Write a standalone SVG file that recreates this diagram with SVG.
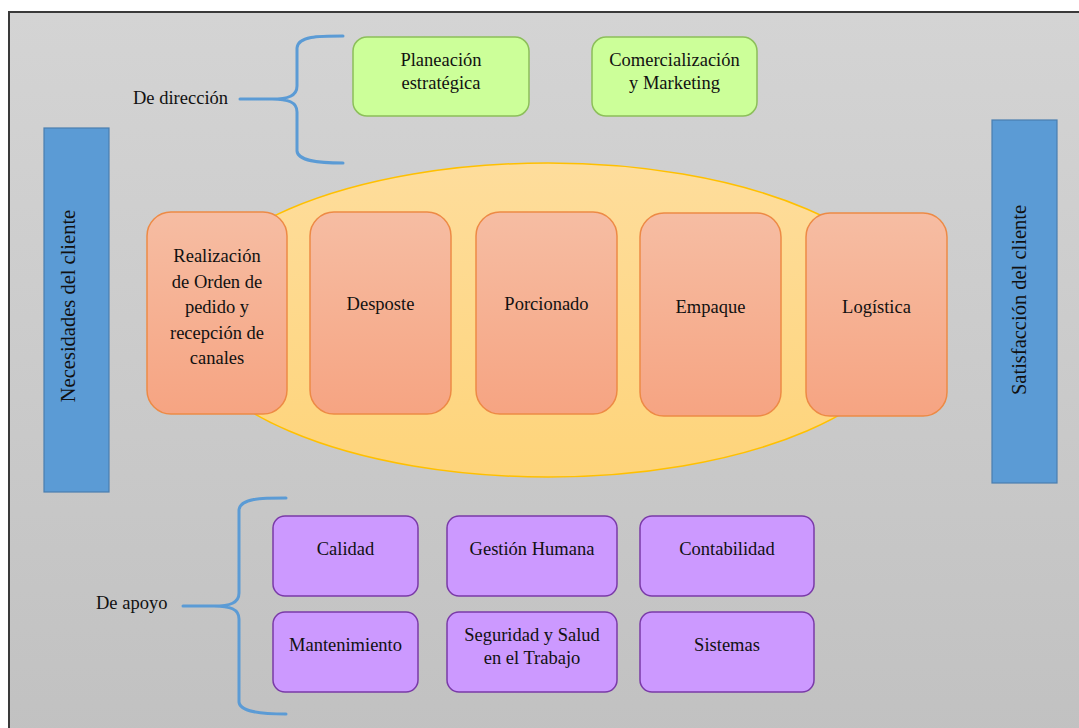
<svg xmlns="http://www.w3.org/2000/svg" width="1079" height="728" viewBox="0 0 1079 728">
  <defs>
    <linearGradient id="bgGrad" x1="0" y1="0" x2="0" y2="1">
      <stop offset="0" stop-color="#d4d4d4"/>
      <stop offset="1" stop-color="#c1c1c1"/>
    </linearGradient>
    <linearGradient id="ovalGrad" x1="0" y1="0" x2="0" y2="1">
      <stop offset="0" stop-color="#fedd9c"/>
      <stop offset="1" stop-color="#fed47a"/>
    </linearGradient>
    <linearGradient id="coreGrad" x1="0" y1="0" x2="0" y2="1">
      <stop offset="0" stop-color="#f6bda3"/>
      <stop offset="1" stop-color="#f6a482"/>
    </linearGradient>
    <style>
      .txt { font-family: "Liberation Serif", "Times New Roman", serif; font-size: 18.5px; fill: #111; text-anchor: middle; }
      .lbl { font-family: "Liberation Serif", "Times New Roman", serif; font-size: 18.5px; fill: #111; }
      .vtxt { font-family: "Liberation Serif", "Times New Roman", serif; font-size: 20.5px; fill: #111; text-anchor: middle; }
      .green { fill: #ccff99; stroke: #8cbf5a; stroke-width: 1.5; }
      .core { fill: url(#coreGrad); stroke: #ed8a45; stroke-width: 1.5; }
      .support { fill: #cc99ff; stroke: #7a3aa8; stroke-width: 1.5; }
      .bar { fill: #5b9bd5; stroke: #4a7eb0; stroke-width: 1.2; }
      .brace { fill: none; stroke: #5b9bd5; stroke-width: 3; stroke-linecap: round; }
    </style>
  </defs>

  <!-- page frame -->
  <rect x="0" y="0" width="1079" height="728" fill="#ffffff"/>
  <rect x="9" y="12" width="1080" height="730" fill="url(#bgGrad)" stroke="#3a3a3a" stroke-width="2"/>

  <!-- core process oval -->
  <g id="core-oval">
    <ellipse cx="548" cy="320" rx="366" ry="157" fill="url(#ovalGrad)" stroke="#ffc000" stroke-width="1.5"/>
  </g>

  <!-- braces grouping management and support processes -->
  <g id="connectors">
    <path class="brace" d="M343,36 C318,36 298,36 297,48 L297,86 C297,96 288,99 272,99 L240,99 M272,99 C288,99 297,102 297,112 L297,151 C298,161 318,163 343,163"/>
    <path class="brace" d="M286,498 C262,498 240,498 239,510 L239,593 C239,603 230,606 214,606 L183,606 M214,606 C230,606 239,609 239,619 L239,702 C240,712 262,714 286,714"/>
  </g>

  <!-- group labels -->
  <g id="label-direccion"><text class="lbl" x="133" y="104">De dirección</text></g>
  <g id="label-apoyo"><text class="lbl" x="96" y="609">De apoyo</text></g>

  <!-- customer bars -->
  <g id="necesidades">
    <rect class="bar" x="44" y="128" width="65" height="364"/>
    <text class="vtxt" transform="translate(75,306) rotate(-90)">Necesidades del cliente</text>
  </g>
  <g id="satisfaccion">
    <rect class="bar" x="992" y="120" width="65" height="363"/>
    <text class="vtxt" transform="translate(1026,300) rotate(-90)">Satisfacción del cliente</text>
  </g>

  <!-- management processes -->
  <g id="planeacion">
    <rect class="green" x="353" y="37" width="176" height="79" rx="14"/>
    <text class="txt" x="441" y="66">Planeación</text>
    <text class="txt" x="441" y="89">estratégica</text>
  </g>
  <g id="comercializacion">
    <rect class="green" x="592" y="37" width="165" height="79" rx="14"/>
    <text class="txt" x="674.5" y="66">Comercialización</text>
    <text class="txt" x="674.5" y="89">y Marketing</text>
  </g>

  <!-- core processes -->
  <g id="orden">
    <rect class="core" x="147" y="212" width="140" height="202" rx="24"/>
    <text class="txt" x="217" y="262">Realización</text>
    <text class="txt" x="217" y="287.5">de Orden de</text>
    <text class="txt" x="217" y="313">pedido y</text>
    <text class="txt" x="217" y="338.5">recepción de</text>
    <text class="txt" x="217" y="364">canales</text>
  </g>
  <g id="desposte">
    <rect class="core" x="310" y="212" width="141" height="202" rx="24"/>
    <text class="txt" x="380.5" y="310">Desposte</text>
  </g>
  <g id="porcionado">
    <rect class="core" x="476" y="212" width="141" height="202" rx="24"/>
    <text class="txt" x="546.5" y="310">Porcionado</text>
  </g>
  <g id="empaque">
    <rect class="core" x="640" y="213" width="141" height="203" rx="24"/>
    <text class="txt" x="710.5" y="313">Empaque</text>
  </g>
  <g id="logistica">
    <rect class="core" x="806" y="213" width="141" height="203" rx="24"/>
    <text class="txt" x="876.5" y="313">Logística</text>
  </g>

  <!-- support processes -->
  <g id="calidad">
    <rect class="support" x="273" y="516" width="145" height="80" rx="12"/>
    <text class="txt" x="345.5" y="555">Calidad</text>
  </g>
  <g id="gestion-humana">
    <rect class="support" x="447" y="516" width="170" height="80" rx="12"/>
    <text class="txt" x="532" y="555">Gestión Humana</text>
  </g>
  <g id="contabilidad">
    <rect class="support" x="640" y="516" width="174" height="80" rx="12"/>
    <text class="txt" x="727" y="555">Contabilidad</text>
  </g>
  <g id="mantenimiento">
    <rect class="support" x="273" y="612" width="145" height="80" rx="12"/>
    <text class="txt" x="345.5" y="651">Mantenimiento</text>
  </g>
  <g id="seguridad">
    <rect class="support" x="447" y="612" width="170" height="80" rx="12"/>
    <text class="txt" x="532" y="641">Seguridad y Salud</text>
    <text class="txt" x="532" y="664">en el Trabajo</text>
  </g>
  <g id="sistemas">
    <rect class="support" x="640" y="612" width="174" height="80" rx="12"/>
    <text class="txt" x="727" y="651">Sistemas</text>
  </g>
</svg>
